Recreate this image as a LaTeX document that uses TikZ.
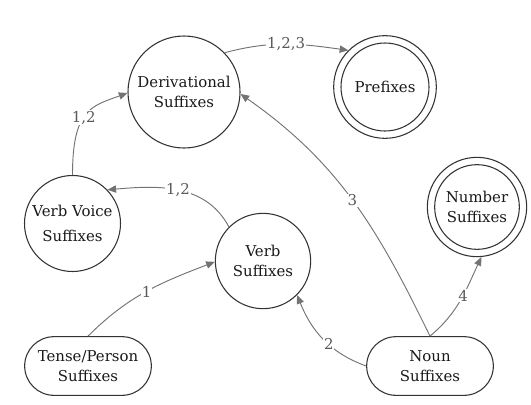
\documentclass[tikz,border=0pt]{standalone}
\usepackage{fontspec}
\setmainfont{DejaVu Serif}
\usetikzlibrary{arrows.meta,shapes.misc}
\begin{document}
\begin{tikzpicture}[x=0.75pt,y=0.75pt,
  every node/.style={font=\fontsize{11.2}{15}\selectfont, text=black!90},
  state/.style={circle,draw=black!80,line width=0.8pt,align=center,inner sep=0pt},
  ring/.style={circle,draw=black!80,line width=0.8pt,inner sep=0pt},
  term/.style={rounded rectangle,draw=black!80,line width=0.8pt,align=center,
    minimum width=95pt,minimum height=44pt,inner sep=0pt},
  link/.style={draw=black!55,line width=0.7pt,-{Triangle[length=6.5pt,width=5.5pt]}},
  lab/.style={fill=white,inner sep=0.6pt,text=black!65}
]
\useasboundingbox (0,0) rectangle (531,-404);

% states
\node[state,minimum size=84pt] (D) at (184,-92) {Derivational\\Suffixes};
\node[ring,minimum size=77pt] (P) at (385,-87) {};
\node[state,minimum size=66pt] (Pin) at (385,-87) {Prefixes};
\node[state,minimum size=72pt,font=\fontsize{11.2}{18.5}\selectfont] (VV) at (72.5,-223.5) {Verb Voice\\Suffixes};
\node[state,minimum size=71.5pt] (V) at (263,-261) {Verb\\Suffixes};
\node[ring,minimum size=74.5pt] (Num) at (477,-207) {};
\node[state,minimum size=63.5pt] (Numin) at (477,-207) {Number\\Suffixes};
\node[term] (TP) at (88,-366) {Tense/Person\\Suffixes};
\node[term] (NS) at (430,-366) {Noun\\Suffixes};

% transitions
\draw[link] (D.44) to[out=15,in=172] node[lab,pos=0.5]{1,2,3} (P.135);
\draw[link] (VV.north) to[out=90,in=200,out looseness=1.7] node[lab,pos=0.45]{1,2} (D.181);
\draw[link] (V.135) to[out=118,in=5] node[lab,pos=0.5]{1,2} (VV.44);
\draw[link] (TP.north) to[out=45,in=201] node[lab,pos=0.5]{1} (V.181);
\draw[link] (NS.west) to[out=160,in=292] node[lab,pos=0.42]{2} (V.-45);
\draw[link] (NS.north) to[out=116,in=-35] node[lab,pos=0.5]{3} (D.-2);
\draw[link] (NS.north) to[out=40,in=245] node[lab,pos=0.56]{4} (Num.-85);
\end{tikzpicture}
\end{document}
